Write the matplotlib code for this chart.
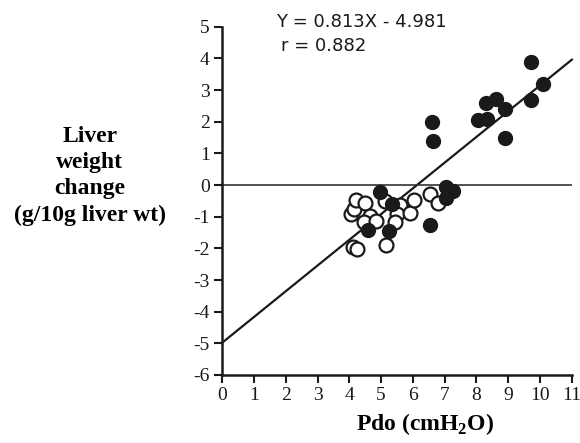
import matplotlib.pyplot as plt
import numpy as np

plt.rcParams['mathtext.fontset'] = 'custom'
plt.rcParams['mathtext.rm'] = 'Liberation Serif:bold'
plt.rcParams['mathtext.bf'] = 'Liberation Serif:bold'
plt.rcParams['axes.unicode_minus'] = False

# open circles
open_x = [4.05, 4.15, 4.2, 4.5, 4.65, 4.45, 4.85, 5.13, 5.6, 5.5, 5.45,
          5.92, 6.02, 6.55, 6.8, 4.12, 4.25, 5.15]
open_y = [-0.92, -0.75, -0.48, -0.57, -0.98, -1.18, -1.15, -0.5, -0.62,
          -0.92, -1.18, -0.88, -0.46, -0.28, -0.58, -1.95, -2.02, -1.9]

# filled circles
fill_x = [4.97, 5.33, 4.58, 5.25, 6.55, 7.05, 7.25, 7.05, 6.6, 6.62,
          8.05, 8.32, 8.3, 8.62, 8.9, 8.9, 9.7, 9.72, 10.1]
fill_y = [-0.22, -0.6, -1.42, -1.45, -1.27, -0.05, -0.2, -0.42, 2.0, 1.38,
          2.06, 2.1, 2.6, 2.72, 2.4, 1.5, 2.7, 3.9, 3.2]

slope, intercept = 0.813, -4.981
r_value = 0.882

fig = plt.figure(figsize=(5.8, 4.43), dpi=100)
ax = fig.add_axes([0.383, 0.1535, 0.603, 0.786])

# regression line and zero reference
xs = np.array([0, 11])
ax.plot(xs, slope * xs + intercept, color='#1a1a1a', lw=1.6, clip_on=False)
ax.axhline(0, color='#333333', lw=1.2)

ax.plot(open_x, open_y, 'o', ms=10, mfc='white', mec='#1a1a1a', mew=1.6,
        clip_on=False, zorder=3)
ax.plot(fill_x, fill_y, 'o', ms=10, mfc='#1a1a1a', mec='#1a1a1a',
        clip_on=False, zorder=4)

ax.set_xlim(0, 11)
ax.set_ylim(-6, 5)
ax.set_xticks(range(0, 12))
ax.set_yticks(range(-6, 6))
ax.tick_params(labelsize=14, width=1.5, length=6, color='#1a1a1a',
               labelcolor='#1a1a1a', pad=3)
for lab in ax.get_xticklabels() + ax.get_yticklabels():
    lab.set_fontfamily('Liberation Serif')

for side in ('top', 'right'):
    ax.spines[side].set_visible(False)
for side in ('left', 'bottom'):
    ax.spines[side].set_linewidth(1.8)
    ax.spines[side].set_color('#1a1a1a')

ax.set_xlabel(r'Pdo (cmH$_{\mathbf{2}}$O)', fontsize=17, fontweight='bold',
              fontfamily='Liberation Serif')
ax.xaxis.set_label_coords(0.58, -0.105)
fig.text(0.155, 0.603, 'Liver\nweight\nchange\n(g/10g liver wt)', ha='center',
         va='center', fontsize=17, fontweight='bold',
         fontfamily='Liberation Serif', linespacing=1.33)

fig.text(0.476, 0.94, f'Y = {slope}X - {-intercept}', fontsize=13,
         fontfamily='DejaVu Sans', color='#1a1a1a')
fig.text(0.484, 0.885, f'r = {r_value}', fontsize=13,
         fontfamily='DejaVu Sans', color='#1a1a1a')

fig.savefig('out.png', dpi=100)
